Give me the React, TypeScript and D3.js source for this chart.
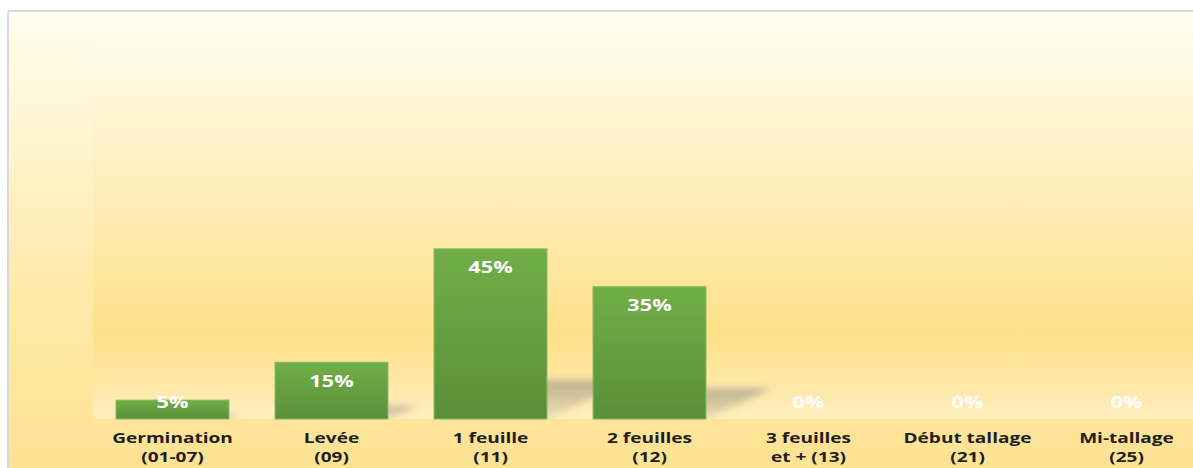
import React from "react";
import * as d3 from "d3";

const categories: string[][] = [
  ["Germination", "(01-07)"],
  ["Levée", "(09)"],
  ["1 feuille", "(11)"],
  ["2 feuilles", "(12)"],
  ["3 feuilles", "et + (13)"],
  ["Début tallage", "(21)"],
  ["Mi-tallage", "(25)"],
];
const values: number[] = [5, 15, 45, 35, 0, 0, 0];
const yDomain: [number, number] = [0, 100];

const W = 1193;
const H = 468;
const plot = { left: 93, right: 1206, top: 41, bottom: 419 };
const FONT = "'Open Sans', 'DejaVu Sans', sans-serif";

export default function App() {
  const x = d3
    .scaleBand<number>()
    .domain(values.map((_, i) => i))
    .range([plot.left, plot.right])
    .paddingInner(0.29)
    .paddingOuter(0.145);
  const y = d3.scaleLinear().domain(yDomain).range([plot.bottom, plot.top]);
  const bw = x.bandwidth();

  return (
    <svg
      width={W}
      height={H}
      style={{ position: "absolute", left: 0, top: 0 }}
      xmlns="http://www.w3.org/2000/svg"
    >
      <defs>
        <linearGradient id="outerBg" x1="0" y1="0" x2="0" y2="1">
          <stop offset="0" stopColor="#fffdef" />
          <stop offset="0.6" stopColor="#feeaa8" />
          <stop offset="1" stopColor="#fee292" />
        </linearGradient>
        <linearGradient id="plotBg" x1="0" y1="0" x2="0" y2="1">
          <stop offset="0" stopColor="#fffcea" />
          <stop offset="0.78" stopColor="#fee089" />
          <stop offset="1" stopColor="#ffeebd" />
        </linearGradient>
        <linearGradient id="barG" x1="0" y1="0" x2="0" y2="1">
          <stop offset="0" stopColor="#71ae48" />
          <stop offset="1" stopColor="#5a8f39" />
        </linearGradient>
        <linearGradient id="shadowG" x1="0" y1="1" x2="0" y2="0">
          <stop offset="0" stopColor="#7a7a7a" stopOpacity="0.12" />
          <stop offset="1" stopColor="#7a7a7a" stopOpacity="0.5" />
        </linearGradient>
        <filter id="blur" x="-30%" y="-50%" width="160%" height="200%">
          <feGaussianBlur stdDeviation="3.5" />
        </filter>
        <clipPath id="plotClip">
          <rect x={plot.left} y={plot.top} width={plot.right - plot.left} height={plot.bottom - plot.top} />
        </clipPath>
      </defs>

      <rect x={9} y={12} width={W} height={H} fill="url(#outerBg)" />
      <line x1={8} y1={11} x2={W} y2={11} stroke="#d9d9d9" strokeWidth={2} />
      <line x1={8} y1={11} x2={8} y2={H} stroke="#d9d9d9" strokeWidth={2} />

      <rect
        x={plot.left}
        y={plot.top}
        width={plot.right - plot.left}
        height={plot.bottom - plot.top}
        fill="url(#plotBg)"
      />

      <g clipPath="url(#plotClip)">
        {values.map((v, i) => {
          const h = y(0) - y(v);
          if (h <= 0) return null;
          const x0 = x(i)!;
          const x1 = x0 + bw;
          const b = y(0);
          const dx = 0.5 * h;
          const sh = 0.23 * h;
          const pts = [
            [x0, b],
            [x1, b],
            [x1 + dx, b - sh],
            [x0 + dx, b - sh],
          ]
            .map((p) => p.join(","))
            .join(" ");
          return <polygon key={i} points={pts} fill="url(#shadowG)" filter="url(#blur)" />;
        })}
      </g>

      {values.map((v, i) => {
        const h = y(0) - y(v);
        if (h <= 0) return null;
        return (
          <rect
            key={i}
            x={x(i)!}
            y={y(v)}
            width={bw}
            height={h}
            fill="url(#barG)"
            stroke="#80b85c"
            strokeWidth={1}
          />
        );
      })}

      {values.map((v, i) => {
        const cx = x(i)! + bw / 2;
        const by = Math.min(y(v) + 24.5, y(0) - 11);
        return (
          <text
            key={i}
            transform={`translate(${cx},${by}) scale(1.4,1)`}
            textAnchor="middle"
            fontFamily={FONT}
            fontWeight={700}
            fontSize={15.5}
            fill="#ffffff"
          >
            {`${v}%`}
          </text>
        );
      })}

      {categories.map((lines, i) => {
        const cx = x(i)! + bw / 2;
        return lines.map((t, j) => (
          <text
            key={`${i}-${j}`}
            transform={`translate(${cx},${443 + j * 19}) scale(1.36,1)`}
            textAnchor="middle"
            fontFamily={FONT}
            fontWeight={700}
            fontSize={14}
            fill="#1f1f1f"
          >
            {t}
          </text>
        ));
      })}
    </svg>
  );
}
